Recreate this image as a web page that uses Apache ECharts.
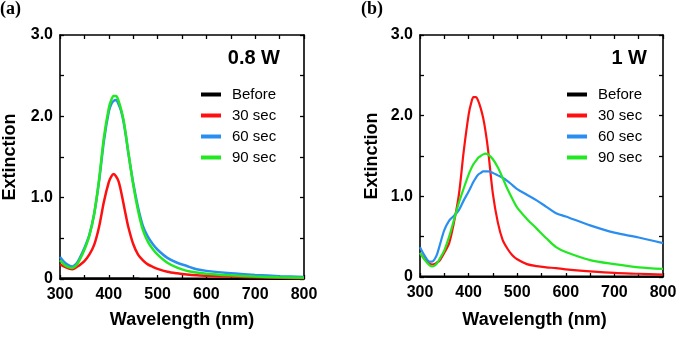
<!DOCTYPE html>
<html>
<head>
<meta charset="utf-8">
<script src="https://cdn.jsdelivr.net/npm/echarts@6/dist/echarts.min.js"></script>
<style>
html,body{margin:0;padding:0;background:#fff;}
#c{width:685px;height:337px;}
</style>
</head>
<body>
<div id="c"></div>
<script>
// Wavelength grid (nm)
var wavelengths = [300,310,320,325,330,335,340,350,360,370,380,390,400,405,410,415,420,425,430,435,440,450,460,470,480,490,500,520,540,560,580,600,650,700,750,800];

// Panel (a) 0.8 W
var a_before = [0.006,0.006,0.005,0.005,0.005,0.005,0.005,0.005,0.005,0.005,0.005,0.005,0.005,0.005,0.005,0.005,0.005,0.005,0.005,0.005,0.005,0.005,0.005,0.004,0.004,0.004,0.004,0.004,0.004,0.004,0.004,0.004,0.004,0.004,0.004,0.004];
var a_30 = [0.18,0.15,0.125,0.12,0.13,0.15,0.17,0.22,0.30,0.42,0.64,0.95,1.19,1.26,1.29,1.26,1.20,1.08,0.93,0.78,0.64,0.43,0.30,0.23,0.18,0.15,0.125,0.09,0.07,0.055,0.045,0.04,0.03,0.02,0.015,0.01];
var a_60 = [0.27,0.20,0.16,0.155,0.17,0.20,0.25,0.38,0.54,0.80,1.20,1.70,2.06,2.15,2.19,2.20,2.15,2.07,1.94,1.76,1.55,1.18,0.88,0.65,0.52,0.43,0.36,0.26,0.20,0.16,0.12,0.10,0.07,0.05,0.035,0.025];
var a_90 = [0.23,0.17,0.14,0.135,0.15,0.18,0.23,0.36,0.53,0.80,1.22,1.74,2.10,2.20,2.25,2.25,2.19,2.09,1.96,1.77,1.56,1.16,0.84,0.60,0.46,0.37,0.30,0.20,0.14,0.10,0.08,0.065,0.045,0.03,0.02,0.015];

// Panel (b) 1 W
var b_before = [0.006,0.006,0.005,0.005,0.005,0.005,0.005,0.005,0.005,0.005,0.005,0.005,0.005,0.005,0.005,0.005,0.005,0.005,0.005,0.005,0.005,0.005,0.005,0.004,0.004,0.004,0.004,0.004,0.004,0.004,0.004,0.004,0.004,0.004,0.004,0.004];
var b_30 = [0.30,0.22,0.165,0.155,0.16,0.18,0.20,0.30,0.42,0.68,1.02,1.56,2.01,2.15,2.23,2.23,2.18,2.09,1.97,1.80,1.58,1.03,0.68,0.46,0.35,0.27,0.22,0.16,0.135,0.12,0.11,0.095,0.07,0.05,0.04,0.03];
var b_60 = [0.37,0.26,0.19,0.19,0.22,0.28,0.38,0.58,0.70,0.76,0.83,0.95,1.06,1.12,1.18,1.23,1.27,1.29,1.31,1.31,1.31,1.29,1.26,1.23,1.19,1.14,1.09,1.02,0.95,0.87,0.79,0.75,0.64,0.55,0.49,0.42];
var b_90 = [0.30,0.21,0.145,0.13,0.14,0.17,0.22,0.33,0.50,0.71,0.92,1.10,1.27,1.34,1.40,1.44,1.48,1.50,1.52,1.53,1.52,1.46,1.36,1.23,1.09,0.97,0.86,0.72,0.60,0.48,0.37,0.31,0.21,0.16,0.12,0.10];

var seriesNames = ['Before','30 sec','60 sec','90 sec'];
var seriesColors = ['#000000','#ff1010','#2a8ef0','#22e822'];
var xTickLabels = [300,400,500,600,700,800];
var yTickLabels = ['0','1.0','2.0','3.0'];

var FONT = "'Liberation Sans', Arial, sans-serif";

function pairs(vals){ return wavelengths.map(function(w,i){ return [w, vals[i]]; }); }

function xAx(grid, pos, showLabel, name, nameGap, namePad){
  return {
    type:'value', gridIndex:grid, position:pos, min:300, max:800, interval:50,
    axisLine:{show:true, onZero:false, lineStyle:{color:'#000', width:1.6}},
    axisTick:{show:true, inside:true, length:4, lineStyle:{color:'#000', width:1.3}},
    splitLine:{show:false},
    axisLabel:{show:showLabel, margin:8, color:'#000', fontFamily:FONT, fontWeight:'bold', fontSize:16,
      formatter:function(v){ return xTickLabels.indexOf(v) >= 0 ? String(v) : ''; }},
    name: name || '', nameLocation:'middle', nameGap: nameGap || 0,
    nameTextStyle:{color:'#000', fontFamily:FONT, fontWeight:'bold', fontSize:18, padding: namePad || 0}
  };
}
function yAx(grid, pos, showLabel, name, nameGap){
  return {
    type:'value', gridIndex:grid, position:pos, min:0, max:3, interval:0.5,
    axisLine:{show:true, onZero:false, lineStyle:{color:'#000', width:1.6}},
    axisTick:{show:true, inside:true, length:4, lineStyle:{color:'#000', width:1.3}},
    splitLine:{show:false},
    axisLabel:{show:showLabel, margin:7, color:'#000', fontFamily:FONT, fontWeight:'bold', fontSize:16,
      formatter:function(v){ var k = Math.round(v*2); return (k % 2 === 0) ? yTickLabels[k/2] : ''; }},
    name: name || '', nameLocation:'middle', nameGap: nameGap || 0,
    nameTextStyle:{color:'#000', fontFamily:FONT, fontWeight:'bold', fontSize:18}
  };
}

function mk(name, color, vals, xi, yi, width){
  return {
    name:name, type:'line', xAxisIndex:xi, yAxisIndex:yi, data:pairs(vals),
    showSymbol:false, smooth:0.3, clip:true,
    lineStyle:{color:color, width:width}, itemStyle:{color:color},
    z: name === 'Before' ? 1 : 2
  };
}

function legend(left){
  return {
    orient:'vertical', left:left, top:82, itemGap:6,
    icon:'rect', itemWidth:20, itemHeight:4,
    data: seriesNames,
    textStyle:{color:'#000', fontFamily:FONT, fontSize:15, lineHeight:15, padding:[0,0,0,6]},
    selectedMode:false
  };
}

var chart = echarts.init(document.getElementById('c'), null, {renderer:'canvas'});
chart.setOption({
  animation:false,
  backgroundColor:'#fff',
  grid:[
    {left:60, top:35, width:244, height:244},
    {left:420, top:35, width:243, height:242}
  ],
  xAxis:[
    xAx(0,'bottom',true,'Wavelength (nm)',32),
    xAx(0,'top',false),
    xAx(1,'bottom',true,'Wavelength (nm)',34,[0,14,0,0]),
    xAx(1,'top',false)
  ],
  yAxis:[
    yAx(0,'left',true,'Extinction',41),
    yAx(0,'right',false),
    yAx(1,'left',true,'Extinction',39),
    yAx(1,'right',false)
  ],
  legend:[legend(196), legend(562)],
  series:[
    mk(seriesNames[0], seriesColors[0], a_before, 0, 0, 2.5),
    mk(seriesNames[1], seriesColors[1], a_30, 0, 0, 2.5),
    mk(seriesNames[2], seriesColors[2], a_60, 0, 0, 2.5),
    mk(seriesNames[3], seriesColors[3], a_90, 0, 0, 2.5),
    mk(seriesNames[0], seriesColors[0], b_before, 2, 2, 2.2),
    mk(seriesNames[1], seriesColors[1], b_30, 2, 2, 2.2),
    mk(seriesNames[2], seriesColors[2], b_60, 2, 2, 2.2),
    mk(seriesNames[3], seriesColors[3], b_90, 2, 2, 2.2)
  ],
  graphic:[
    {type:'text', left:0, top:0, style:{text:'(a)', fill:'#000', font:"bold 18px 'Liberation Serif', 'Times New Roman', serif"}},
    {type:'text', left:361, top:0, style:{text:'(b)', fill:'#000', font:"bold 18px 'Liberation Serif', 'Times New Roman', serif"}},
    {type:'text', right:405, top:48, style:{text:'0.8 W', fill:'#000', font:"bold 20px 'Liberation Sans', Arial, sans-serif"}},
    {type:'text', right:38, top:48, style:{text:'1 W', fill:'#000', font:"bold 20px 'Liberation Sans', Arial, sans-serif"}}
  ]
});
</script>
</body>
</html>
